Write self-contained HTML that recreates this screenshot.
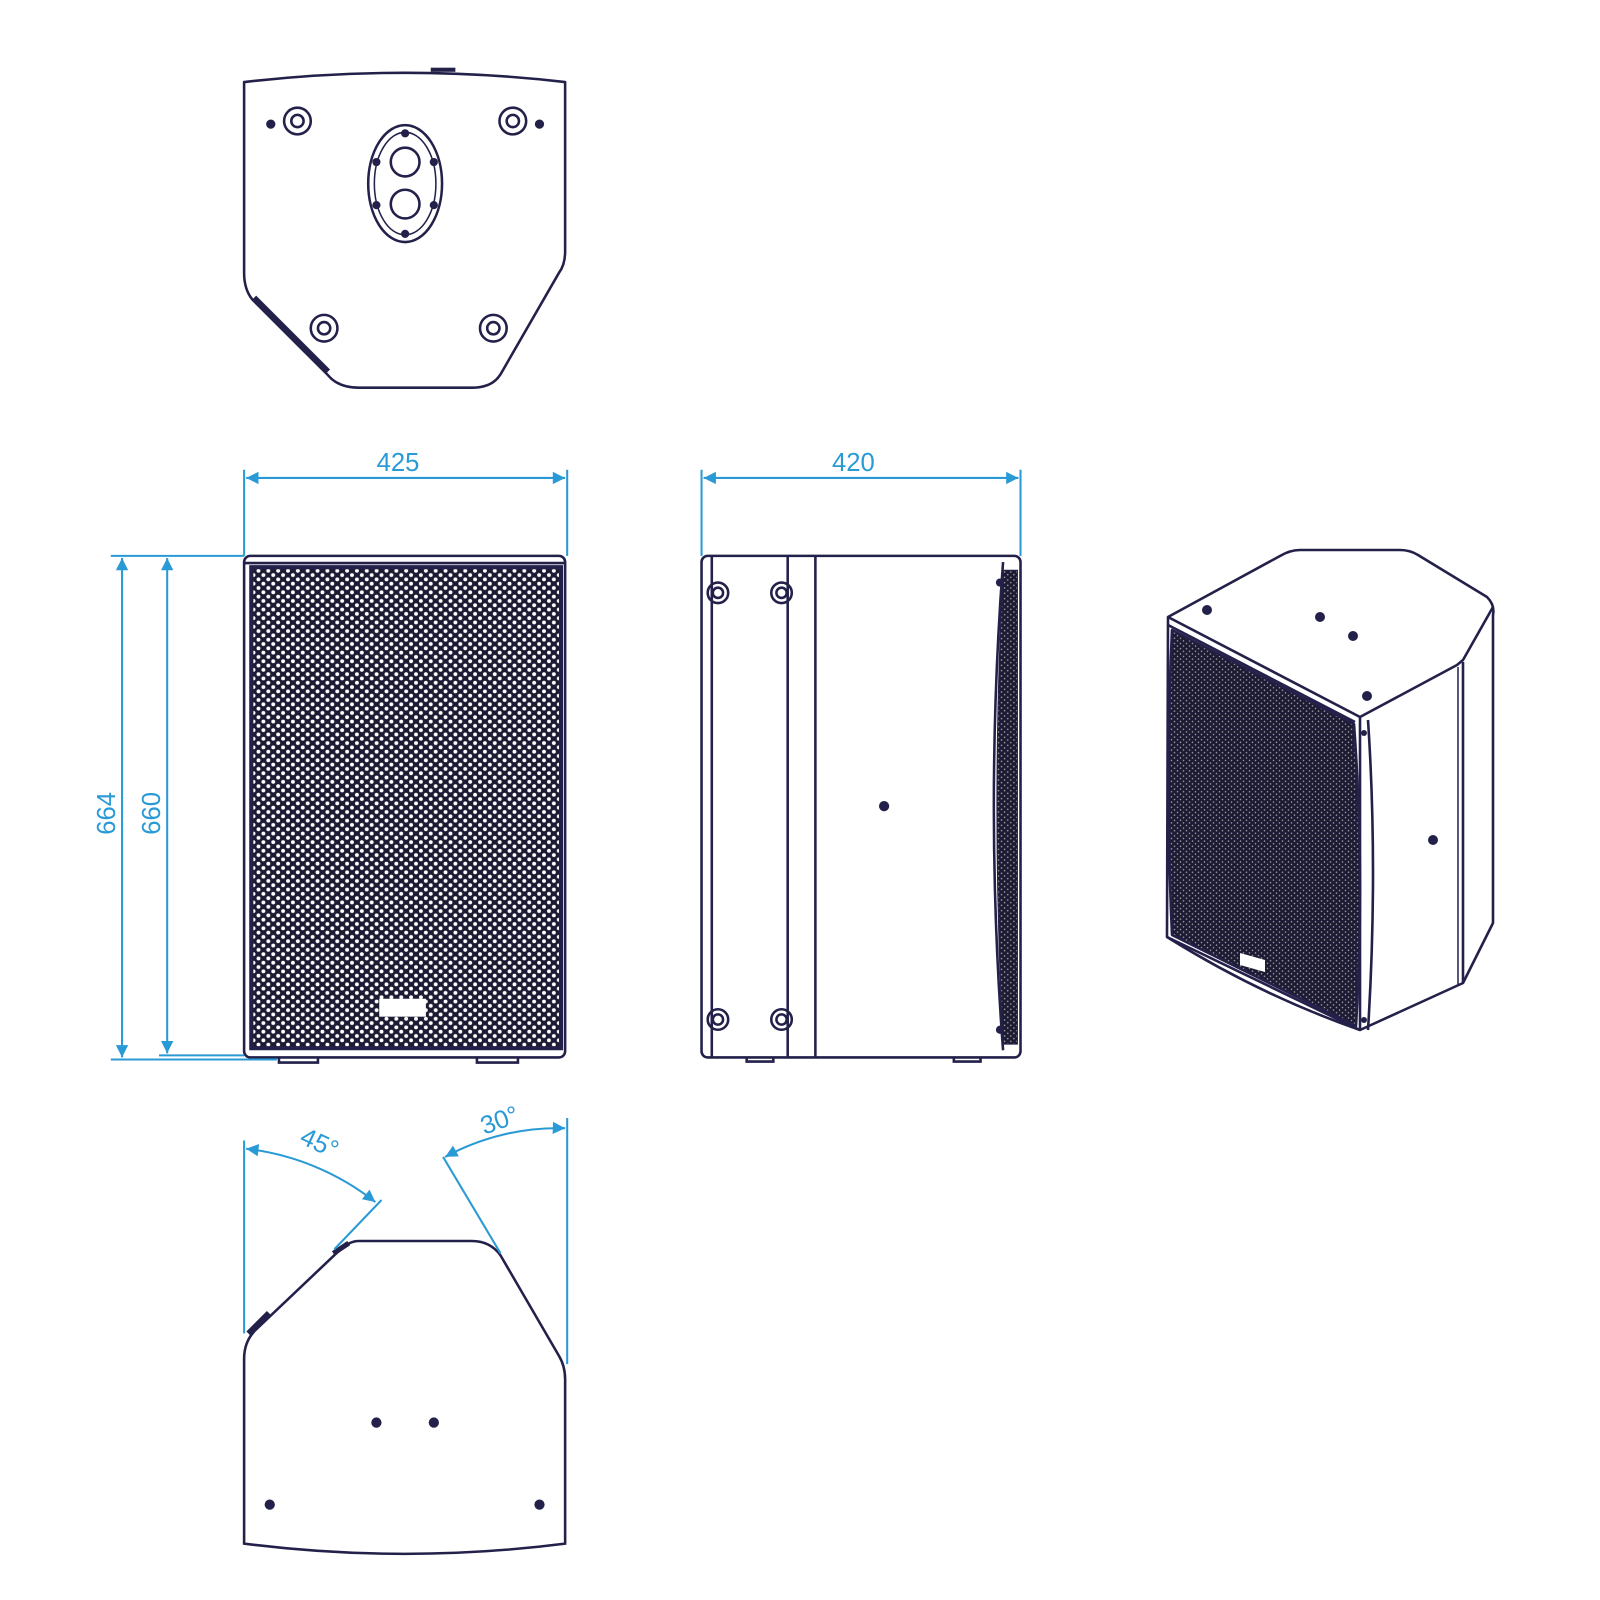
<!DOCTYPE html>
<html><head><meta charset="utf-8"><style>html,body{margin:0;padding:0;background:#fff}svg{display:block}</style></head>
<body>
<svg width="1600" height="1600" viewBox="0 0 1560 1560" xmlns="http://www.w3.org/2000/svg">
<defs>
<pattern id="g" width="9.6" height="8.4" patternUnits="userSpaceOnUse">
<rect width="9.6" height="8.4" fill="#1d1b33"/>
<circle cx="2.4" cy="2.1" r="1.9" fill="#fff"/><circle cx="7.2" cy="6.3" r="1.9" fill="#fff"/>
</pattern>
<pattern id="g2" width="6" height="5.2" patternUnits="userSpaceOnUse">
<rect width="6" height="5.2" fill="#1d1b33"/>
<circle cx="1.5" cy="1.3" r="0.8" fill="#999"/><circle cx="4.5" cy="3.9" r="0.8" fill="#999"/>
</pattern>
<marker id="b" viewBox="0 0 10 10" refX="10" refY="5" markerWidth="26" markerHeight="12" markerUnits="userSpaceOnUse" orient="auto-start-reverse"><path d="M0,0 L10,5 L0,10z" fill="#2a9ad6"/></marker>
</defs>
<g fill="none" stroke="#23214a" stroke-width="2.5" stroke-linejoin="round">
<path d="M238,80 Q395,62 551,80 L551,245 Q551,258 545,266 L488,365 Q480,378 460,378 L350,378 Q330,378 320,366 L246,292 Q238,282 238,266 Z"/>
<path d="M248,290 L320,362" stroke-width="5"/>
<ellipse cx="395" cy="179" rx="36" ry="57"/>
<ellipse cx="395" cy="179" rx="30" ry="50" stroke-width="1.5"/>
<circle cx="395" cy="158" r="14"/><circle cx="395" cy="199" r="14"/>
<circle cx="290" cy="118" r="13"/><circle cx="290" cy="118" r="6"/>
<circle cx="500" cy="118" r="13"/><circle cx="500" cy="118" r="6"/>
<circle cx="316" cy="320" r="13"/><circle cx="316" cy="320" r="6"/>
<circle cx="481" cy="320" r="13"/><circle cx="481" cy="320" r="6"/>
</g>
<g fill="#23214a">
<circle cx="264" cy="121" r="4.5"/><circle cx="526" cy="121" r="4.5"/>
<circle cx="395" cy="130" r="4"/><circle cx="395" cy="228" r="4"/>
<circle cx="367" cy="158" r="4"/><circle cx="423" cy="158" r="4"/>
<circle cx="367" cy="200" r="4"/><circle cx="423" cy="200" r="4"/>
<rect x="420" y="66" width="24" height="4"/>
</g>
<g stroke="#23214a" stroke-width="2.5" fill="none">
<rect x="238" y="542" width="313" height="489" rx="6"/>
<line x1="238" y1="549" x2="551" y2="549"/>
<rect x="245" y="553" width="302" height="469" fill="url(#g)"/>
<rect x="245" y="553" width="302" height="469" stroke-width="4"/>
<rect x="371" y="975" width="43" height="15" fill="#fff" stroke="#fff"/>
<path d="M272,1031v5h38v-5M465,1031v5h40v-5"/>
</g>
<g stroke="#23214a" stroke-width="2.5" fill="none">
<rect x="684" y="542" width="311" height="489" rx="6"/>
<line x1="694" y1="542" x2="694" y2="1031"/>
<line x1="768" y1="542" x2="768" y2="1031"/>
<line x1="795" y1="542" x2="795" y2="1031"/>
<path d="M978,548 Q960,786 978,1024"/>
<path d="M978,556 Q966,786 978,1018 L992,1018 L992,556 Z" fill="url(#g2)" stroke-width="1"/>
<circle cx="700" cy="578" r="10"/><circle cx="700" cy="578" r="5"/>
<circle cx="762" cy="578" r="10"/><circle cx="762" cy="578" r="5"/>
<circle cx="700" cy="994" r="10"/><circle cx="700" cy="994" r="5"/>
<circle cx="762" cy="994" r="10"/><circle cx="762" cy="994" r="5"/>
<path d="M728,1031v4h26v-4M930,1031v4h26v-4"/>
</g>
<g fill="#23214a"><circle cx="862" cy="786" r="5"/><circle cx="975" cy="568" r="4"/><circle cx="975" cy="1004" r="4"/></g>
<g fill="none" stroke="#23214a" stroke-width="2.5">
<path d="M350,1210 L460,1210 Q478,1210 488,1224 L545,1322 Q551,1332 551,1345 L551,1505 Q395,1525 238,1505 L238,1325 Q238,1307 250,1296 L330,1220 Q340,1210 350,1210 Z"/>
<path d="M242,1300 L262,1280 M325,1222 L340,1212" stroke-width="5"/>
</g>
<g fill="#23214a"><circle cx="367" cy="1387" r="5"/><circle cx="423" cy="1387" r="5"/><circle cx="263" cy="1467" r="5"/><circle cx="526" cy="1467" r="5"/></g>
<g stroke="#2a9ad6" stroke-width="2" fill="none">
<line x1="238" y1="458" x2="238" y2="542"/><line x1="553" y1="458" x2="553" y2="542"/>
<line x1="240" y1="466" x2="551" y2="466" marker-start="url(#b)" marker-end="url(#b)"/>
<line x1="684" y1="458" x2="684" y2="542"/><line x1="995" y1="458" x2="995" y2="542"/>
<line x1="686" y1="466" x2="993" y2="466" marker-start="url(#b)" marker-end="url(#b)"/>
<line x1="108" y1="542" x2="238" y2="542"/><line x1="108" y1="1033" x2="270" y2="1033"/>
<line x1="155" y1="1029" x2="238" y2="1029"/>
<line x1="119" y1="544" x2="119" y2="1031" marker-start="url(#b)" marker-end="url(#b)"/>
<line x1="163" y1="544" x2="163" y2="1027" marker-start="url(#b)" marker-end="url(#b)"/>
<line x1="238" y1="1112" x2="238" y2="1300"/>
<path d="M240,1120 A250,250 0 0 1 366,1172" marker-start="url(#b)" marker-end="url(#b)"/>
<line x1="372" y1="1170" x2="326" y2="1218"/>
<line x1="553" y1="1090" x2="553" y2="1330"/>
<path d="M551,1100 A230,230 0 0 0 434,1128" marker-start="url(#b)" marker-end="url(#b)"/>
<line x1="432" y1="1128" x2="488" y2="1222"/>
</g>
<g fill="#2a9ad6" font-family="Liberation Sans, sans-serif" font-size="25">
<text x="388" y="459" text-anchor="middle">425</text>
<text x="832" y="459" text-anchor="middle">420</text>
<text transform="translate(112,793) rotate(-90)" text-anchor="middle">664</text>
<text transform="translate(156,793) rotate(-90)" text-anchor="middle">660</text>
<text transform="translate(308,1122) rotate(25)" text-anchor="middle">45°</text>
<text transform="translate(490,1100) rotate(-20)" text-anchor="middle">30°</text>
</g>
<g transform="scale(0.975)" stroke="#23214a" stroke-width="2.6" fill="none" stroke-linejoin="round">
<path d="M1168,617 L1280,556 Q1290,550 1300,550 L1400,550 Q1410,550 1418,555 L1487,597 Q1495,605 1493,615 L1493,923 L1463,983 L1360,1030 L1167,937 Z" fill="#fff"/>
<path d="M1168,617 L1360,717 L1457,665 L1463,660 L1493,607"/>
<path d="M1168,625 L1355,722"/>
<path d="M1360,717 L1360,1030"/>
<path d="M1368,720 Q1378,870 1368,1030"/>
<path d="M1463,662 L1463,983"/>
<path d="M1458,667 L1458,985" stroke-width="1.5"/>
<path d="M1172,630 L1354,724 Q1365,875 1356,1026 L1172,935 Q1165,780 1172,630 Z" fill="url(#g2)"/>
<path d="M1167,937 Q1260,995 1360,1030"/>
<path d="M1240,953 L1265,960 L1265,972 L1240,965 Z" fill="#fff" stroke="none"/>
</g>
<g transform="scale(0.975)" fill="#23214a">
<circle cx="1207" cy="610" r="5"/><circle cx="1320" cy="617" r="5"/><circle cx="1353" cy="636" r="5"/><circle cx="1367" cy="696" r="5"/><circle cx="1433" cy="840" r="5"/>
<circle cx="1364" cy="733" r="3"/><circle cx="1364" cy="1020" r="3"/>
</g>
</svg>
</body></html>
